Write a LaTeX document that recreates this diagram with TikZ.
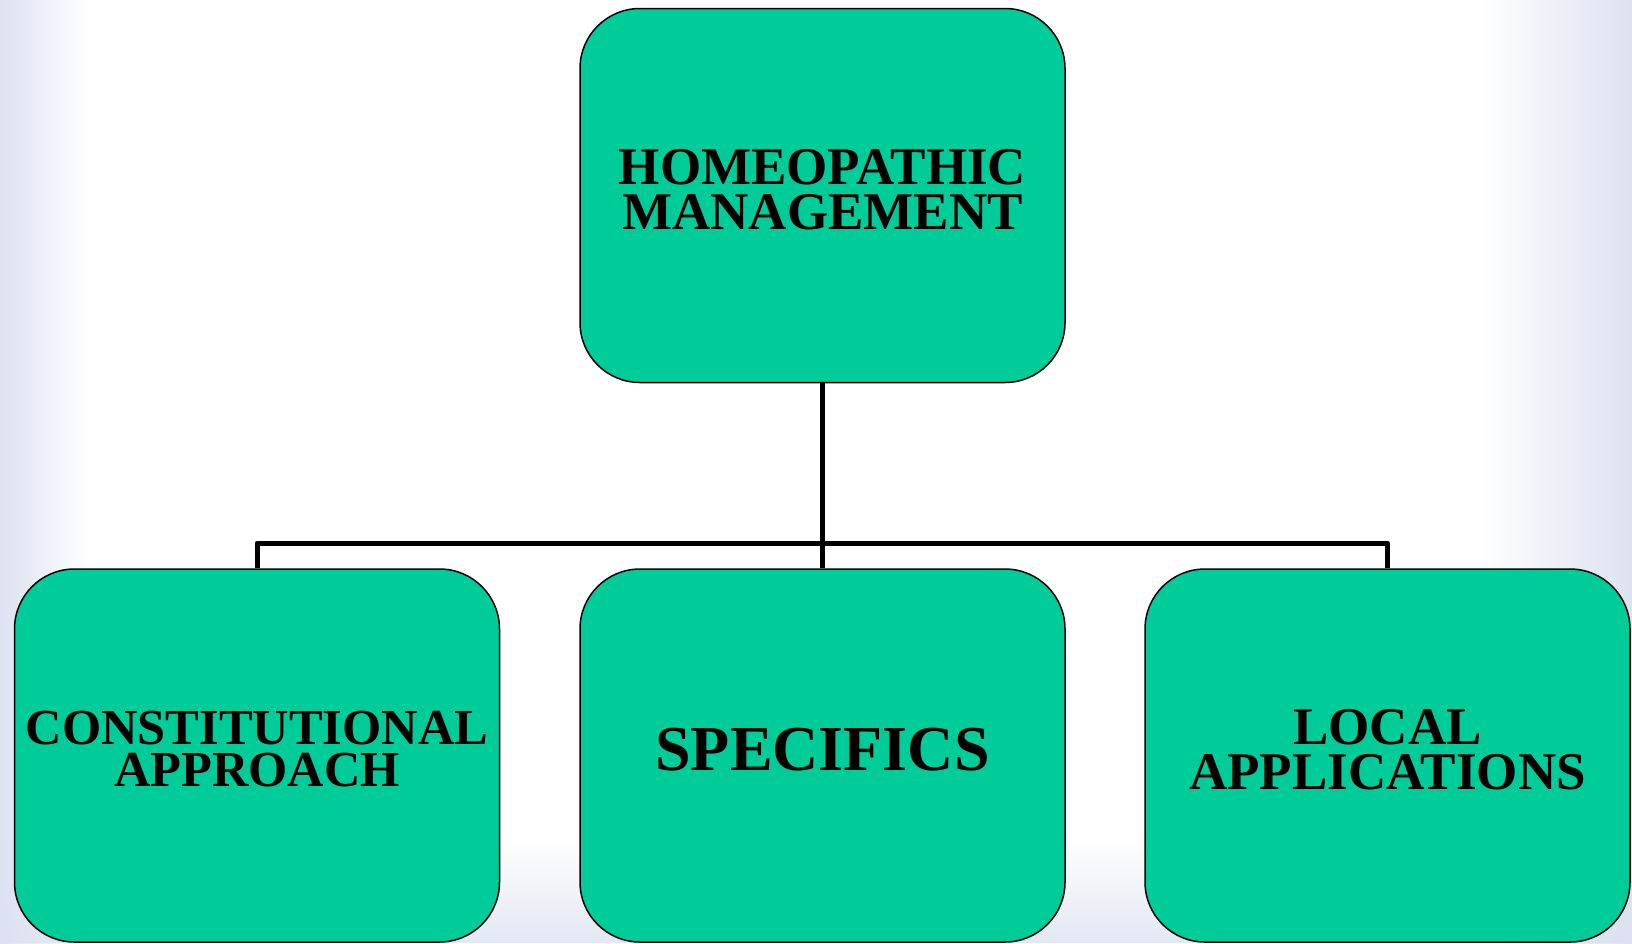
\documentclass[tikz,border=0pt]{standalone}
\usepackage{fontspec}
\usetikzlibrary{fadings}
\setmainfont{Liberation Serif}
\definecolor{boxgreen}{RGB}{0,204,153}
\definecolor{bgblue}{RGB}{221,226,242}
\tikzset{
  chartbox/.style={draw=black, line width=0.75pt, fill=boxgreen, rounded corners=30pt,
    minimum width=242.5pt, minimum height=187pt, inner sep=0pt},
  boxlabel/.style={align=center, inner sep=0pt, yshift=3pt,
    font=\bfseries\fontsize{26.5}{22.5}\selectfont},
  link/.style={line width=2.5pt}
}
\begin{document}
\begin{tikzpicture}[x=0.5pt, y=-0.5pt, line join=round]
\def\W{1632}
\def\H{943}
\useasboundingbox(0,0)rectangle(\W,\H);
% background
\fill[white](0,0)rectangle(\W,\H);
\shade[left color=bgblue, right color=white](0,0)rectangle(90,\H);
\shade[left color=white, right color=bgblue](1480,0)rectangle(\W,\H);
\fill[bgblue, path fading=north, opacity=0.8](0,840)rectangle(\W,\H);
% boxes
\node[chartbox](top)at(822.5,195.5){};
\node[chartbox, minimum height=186.5pt](const)at(257,755.5){};
\node[chartbox, minimum height=186.5pt](spec)at(822.5,755.5){};
\node[chartbox, minimum height=186.5pt](local)at(1387.5,755.5){};
% labels
\node[boxlabel](toptext)at(top){HOMEOPATHIC\\MANAGEMENT};
\node[boxlabel, font=\bfseries\fontsize{25.2}{21}\selectfont](consttext)at(const){CONSTITUTIONAL\\APPROACH};
\node[boxlabel, font=\bfseries\fontsize{32}{32}\selectfont](spectext)at(spec){SPECIFICS};
\node[boxlabel](localtext)at(local){LOCAL\\APPLICATIONS};
% connectors
\coordinate(bus)at(822.5,543);
\draw[link](top.south)--(bus)--(spec.north);
\draw[link](const.north)|-(bus)-|(local.north);
\end{tikzpicture}
\end{document}
